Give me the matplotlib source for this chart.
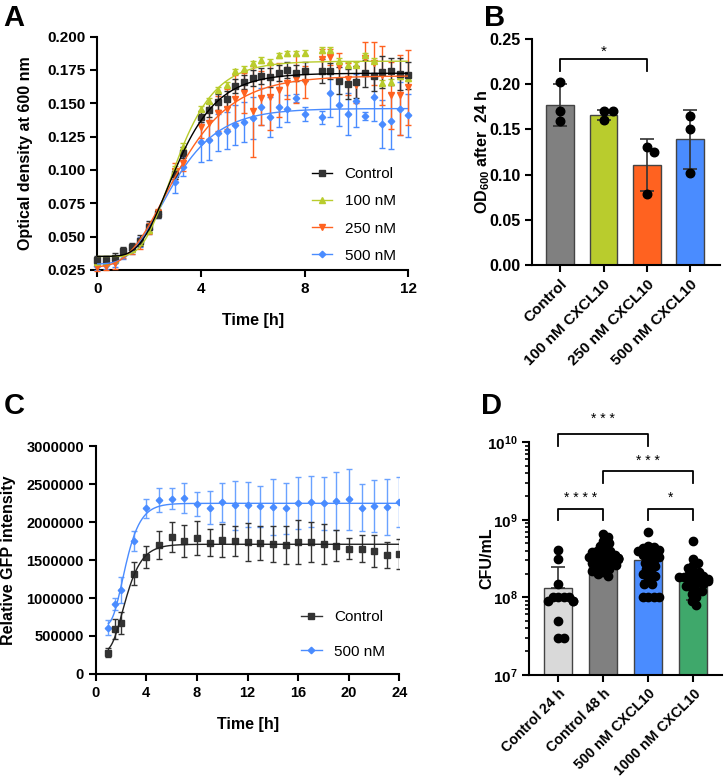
import numpy as np
import matplotlib
matplotlib.use("Agg")
import matplotlib.pyplot as plt
from matplotlib.lines import Line2D

plt.rcParams['font.family'] = ['Liberation Sans', 'DejaVu Sans']
plt.rcParams['mathtext.fontset'] = 'custom'
plt.rcParams['mathtext.rm'] = 'Liberation Sans'
plt.rcParams['mathtext.bf'] = 'Liberation Sans:bold'

# ---------------- data ----------------
# Panel A: OD600 growth curves (hours)
a_time = [0, 0.33, 0.67, 1, 1.33, 1.67, 2, 2.33, 3, 3.33, 4, 4.33, 4.67, 5, 5.33, 5.67,
          6, 6.33, 6.67, 7, 7.33, 7.67, 8, 8.67, 9, 9.33, 9.67, 10, 10.33, 10.67, 11,
          11.33, 11.67, 12]
a_ctrl = [0.0325, 0.0325, 0.034, 0.039, 0.042, 0.047, 0.0575, 0.067, 0.097, 0.113, 0.140,
          0.145, 0.151, 0.153, 0.163, 0.166, 0.169, 0.1705, 0.1695, 0.1725, 0.175, 0.173,
          0.174, 0.1745, 0.1745, 0.167, 0.1645, 0.166, 0.1725, 0.1705, 0.1735, 0.174,
          0.172, 0.171]
a_ctrl_err = [0.003, 0.003, 0.004, 0.003, 0.003, 0.004, 0.004, 0.003, 0.004, 0.004, 0.004,
              0.005, 0.006, 0.006, 0.005, 0.005, 0.006, 0.006, 0.007, 0.006, 0.006, 0.006,
              0.007, 0.009, 0.006, 0.010, 0.011, 0.012, 0.010, 0.011, 0.012, 0.010, 0.012,
              0.010]
a_100 = [0.031, 0.031, 0.033, 0.038, 0.041, 0.046, 0.055, 0.068, 0.100, 0.117, 0.146, 0.152,
         0.160, 0.164, 0.174, 0.176, 0.180, 0.1825, 0.181, 0.186, 0.1875, 0.1875, 0.188,
         0.190, 0.190, 0.182, 0.179, 0.179, 0.186, 0.182, 0.1655, 0.166, 0.1705, 0.169]
a_100_err = [0.002, 0.002, 0.002, 0.002, 0.002, 0.002, 0.002, 0.002, 0.003, 0.003, 0.002,
             0.002, 0.002, 0.002, 0.002, 0.002, 0.002, 0.002, 0.002, 0.002, 0.002, 0.002,
             0.002, 0.002, 0.002, 0.002, 0.002, 0.002, 0.002, 0.002, 0.002, 0.002, 0.002,
             0.002]
a_250 = [0.027, 0.028, 0.030, 0.037, 0.040, 0.045, 0.056, 0.068, 0.099, 0.105, 0.132, 0.1355,
         0.1425, 0.1455, 0.153, 0.1575, 0.144, 0.154, 0.155, 0.160, 0.165, 0.168, 0.166,
         0.183, 0.185, 0.178, 0.168, 0.164, 0.184, 0.180, 0.171, 0.156, 0.156, 0.162]
a_250_err = [0.003, 0.003, 0.004, 0.003, 0.003, 0.004, 0.004, 0.003, 0.006, 0.006, 0.008,
             0.012, 0.013, 0.015, 0.018, 0.015, 0.034, 0.020, 0.025, 0.020, 0.012, 0.018,
             0.012, 0.008, 0.006, 0.010, 0.012, 0.014, 0.012, 0.016, 0.022, 0.025, 0.030,
             0.028]
a_500 = [0.028, 0.029, 0.031, 0.036, 0.040, 0.046, 0.056, 0.067, 0.091, 0.1025, 0.121,
         0.1225, 0.128, 0.1295, 0.134, 0.136, 0.139, 0.1475, 0.140, 0.1475, 0.146, 0.154,
         0.142, 0.1395, 0.158, 0.149, 0.142, 0.152, 0.1405, 0.155, 0.1345, 0.137, 0.146,
         0.141]
a_500_err = [0.003, 0.003, 0.004, 0.003, 0.003, 0.004, 0.004, 0.003, 0.008, 0.007, 0.015,
             0.015, 0.014, 0.014, 0.015, 0.015, 0.016, 0.014, 0.015, 0.015, 0.010, 0.003,
             0.005, 0.005, 0.018, 0.016, 0.016, 0.020, 0.003, 0.018, 0.018, 0.021, 0.020,
             0.016]

# Panel B: OD600 after 24 h
b_groups = ['Control', '100 nM CXCL10', '250 nM CXCL10', '500 nM CXCL10']
b_means = [0.177, 0.166, 0.111, 0.139]
b_sd = [0.023, 0.005, 0.029, 0.033]
b_points = [[0.203, 0.170, 0.159], [0.170, 0.170, 0.160], [0.131, 0.125, 0.079],
            [0.165, 0.151, 0.102]]

# Panel C: GFP intensity
c_time = [1, 1.5, 2, 3, 4, 5, 6, 7, 8, 9, 10, 11, 12, 13, 14, 15, 16, 17, 18, 19, 20, 21,
          22, 23, 24]
c_ctrl = [280000, 590000, 670000, 1320000, 1540000, 1700000, 1800000, 1750000, 1790000,
          1730000, 1760000, 1750000, 1740000, 1725000, 1710000, 1700000, 1740000, 1740000,
          1710000, 1690000, 1650000, 1650000, 1620000, 1570000, 1580000]
c_ctrl_err = [60000, 130000, 140000, 150000, 150000, 180000, 200000, 210000, 230000, 180000,
              220000, 200000, 250000, 220000, 240000, 250000, 290000, 260000, 260000, 200000,
              140000, 180000, 210000, 170000, 200000]
c_500 = [610000, 920000, 1110000, 1750000, 2180000, 2290000, 2310000, 2320000, 2240000,
         2190000, 2260000, 2220000, 2230000, 2210000, 2200000, 2180000, 2250000, 2270000,
         2250000, 2280000, 2300000, 2190000, 2210000, 2200000, 2270000]
c_500_err = [100000, 80000, 170000, 130000, 120000, 160000, 140000, 200000, 160000, 220000,
             260000, 320000, 300000, 270000, 370000, 340000, 340000, 340000, 350000, 380000,
             400000, 310000, 340000, 370000, 330000]

# Panel D: CFU/mL
d_groups = ['Control 24 h', 'Control 48 h', '500 nM CXCL10', '1000 nM CXCL10']
d_means = [1.3e8, 3.05e8, 3.05e8, 1.75e8]
d_err_lo = [0.0, 0.9e8, 1.45e8, 0.82e8]
d_err_hi = [1.15e8, 1.1e8, 1.4e8, 0.8e8]
d_points = [
    [4.1e8, 3.1e8, 1.5e8, 1.0e8, 1.0e8, 1.0e8, 1.0e8, 9e7, 9e7, 9e7, 5e7, 3e7, 3e7],
    [6.5e8, 6.0e8, 5.3e8, 5.0e8, 4.6e8, 4.3e8, 4.0e8, 3.9e8, 3.8e8, 3.6e8, 3.5e8, 3.4e8,
     3.3e8, 3.3e8, 3.2e8, 3.2e8, 3.1e8, 3.1e8, 3.0e8, 3.0e8, 2.9e8, 2.8e8, 2.7e8, 2.6e8,
     2.5e8, 2.4e8, 2.3e8, 2.2e8, 2.1e8, 2.0e8, 1.9e8],
    [7.0e8, 4.6e8, 4.4e8, 4.3e8, 4.1e8, 4.0e8, 3.8e8, 3.6e8, 3.5e8, 3.3e8, 3.2e8, 3.0e8,
     2.8e8, 2.6e8, 2.5e8, 2.3e8, 2.1e8, 2.0e8, 1.9e8, 1.7e8, 1.5e8, 1.5e8, 1.0e8, 1.0e8,
     1.0e8, 1.0e8],
    [5.3e8, 3.1e8, 2.8e8, 2.6e8, 2.4e8, 2.2e8, 2.1e8, 2.0e8, 1.9e8, 1.8e8, 1.8e8, 1.8e8,
     1.7e8, 1.7e8, 1.6e8, 1.6e8, 1.5e8, 1.5e8, 1.4e8, 1.3e8, 1.2e8, 1.2e8, 1.1e8, 1.0e8,
     9e7, 8e7],
]
# significance: (left group, right group, bracket height, tick bottom, star y, label)
d_sig = [(0, 2, 1.27e10, 9e9, 2.0e10, '* * *'),
         (1, 3, 4.2e9, 3.0e9, 5.8e9, '* * *'),
         (0, 1, 1.39e9, 1.0e9, 1.9e9, '* * * *'),
         (2, 3, 1.39e9, 1.0e9, 1.9e9, '*')]

C_CTRL = '#333333'
C_100 = '#b9cc2d'
C_250 = '#ff6220'
C_500 = '#4a8cff'
C_1000 = '#3fa86b'
C_GRAY = '#808080'
C_LIGHT = '#d9d9d9'


def gompertz_fit(t, y):
    # least squares Gompertz fit (grid over midpoint/rate, linear in base/span)
    t = np.asarray(t, float)
    y = np.asarray(y, float)
    x0 = np.linspace(0.0, 6.0, 121)[:, None, None]
    k = np.linspace(0.15, 3.0, 115)[None, :, None]
    g = np.exp(-np.exp(-k * (t[None, None, :] - x0)))
    gm = g.mean(axis=2, keepdims=True)
    ym = y.mean()
    a = ((g - gm) * (y - ym)).sum(axis=2, keepdims=True) / ((g - gm) ** 2).sum(axis=2, keepdims=True)
    b = ym - a * gm
    res = ((b + a * g - y) ** 2).sum(axis=2)
    i, j = np.unravel_index(np.argmin(res), res.shape)
    bx, bk, ba, bb = x0[i, 0, 0], k[0, j, 0], a[i, j, 0], b[i, j, 0]
    return lambda tt: bb + ba * np.exp(-np.exp(-bk * (tt - bx)))


def style_axes(ax, labelsize):
    for s in ['top', 'right']:
        ax.spines[s].set_visible(False)
    for s in ['left', 'bottom']:
        ax.spines[s].set_linewidth(1.5)
    ax.tick_params(direction='out', length=5, width=1.5, labelsize=labelsize)
    for lab in ax.get_xticklabels() + ax.get_yticklabels():
        lab.set_fontweight('bold')


def swarm_x(ax, center, values, diam):
    # simple deterministic beeswarm in display pixels
    placed = []
    xs = []
    inv = ax.transData.inverted()
    for v in values:
        px, py = ax.transData.transform((center, v))
        for step in range(0, 60):
            off = (step + 1) // 2 * 0.5 * (1 if step % 2 else -1)
            cx = px + off
            if all((cx - qx) ** 2 + (py - qy) ** 2 >= diam ** 2 for qx, qy in placed):
                break
        placed.append((cx, py))
        xs.append(inv.transform((cx, py))[0])
    return xs


fig = plt.figure(figsize=(7.25, 7.8), dpi=100)

# ---------------- Panel A ----------------
axA = fig.add_axes([0.134, 0.654, 0.429, 0.299])
series_a = [
    ('Control', a_ctrl, a_ctrl_err, 's', C_CTRL, 'black', 4.8),
    ('100 nM', a_100, a_100_err, '^', C_100, C_100, 5.0),
    ('250 nM', a_250, a_250_err, 'v', C_250, C_250, 5.0),
    ('500 nM', a_500, a_500_err, 'D', C_500, C_500, 3.3),
]
tt = np.linspace(0, 12, 300)
handles = []
for lab, y, e, m, col, lcol, ms in series_a[::-1]:
    axA.errorbar(a_time, y, yerr=e, fmt=m, color=col, ecolor=col, elinewidth=1,
                 capsize=2.5, capthick=1, markersize=ms, clip_on=False, zorder=3)
    f = gompertz_fit(a_time, y)
    axA.plot(tt, f(tt), color=lcol, lw=1, zorder=4)
for lab, y, e, m, col, lcol, ms in series_a:
    handles.append(Line2D([], [], color=lcol, marker=m, markerfacecolor=col,
                          markeredgecolor=col, markersize=ms, lw=1, label=lab))
axA.set_xlim(0, 12)
axA.set_ylim(0.025, 0.200)
axA.set_xticks([0, 4, 8, 12])
axA.set_yticks(np.arange(0.025, 0.2001, 0.025))
axA.yaxis.set_major_formatter(matplotlib.ticker.FormatStrFormatter('%.3f'))
axA.set_xlabel('Time [h]', fontsize=11.5, fontweight='bold')
axA.set_ylabel('Optical density at 600 nm', fontsize=11.5, fontweight='bold')
axA.xaxis.set_label_coords(0.5, -0.185)
axA.yaxis.set_label_coords(-0.205, 0.5)
style_axes(axA, 11)
axA.legend(handles=handles, loc='upper left', bbox_to_anchor=(0.69, 0.44), frameon=False,
           fontsize=11, handlelength=1.35, handletextpad=0.8, labelspacing=0.86,
           borderpad=0, borderaxespad=0)

# ---------------- Panel B ----------------
axB = fig.add_axes([0.734, 0.660, 0.259, 0.290])
bx = np.arange(len(b_groups))
b_cols = [C_GRAY, C_100, C_250, C_500]
axB.bar(bx, b_means, width=0.64, color=b_cols, edgecolor='#444444', linewidth=1, zorder=2)
axB.errorbar(bx, b_means, yerr=b_sd, fmt='none', ecolor='#333333', elinewidth=1.2,
             capsize=5, capthick=1.2, zorder=3)
axB.set_xlim(-0.65, 3.69)
axB.set_ylim(0, 0.25)
axB.set_yticks(np.arange(0, 0.2501, 0.05))
axB.yaxis.set_major_formatter(matplotlib.ticker.FormatStrFormatter('%.2f'))
axB.set_xticks(bx)
axB.set_xticklabels(b_groups, rotation=45, ha='right', rotation_mode='anchor')
axB.set_ylabel(r'OD$_{\mathbf{600}}$ after  24 h', fontsize=11.5, fontweight='bold')
axB.yaxis.set_label_coords(-0.215, 0.5)
style_axes(axB, 11.5)
for lab in axB.get_xticklabels():
    lab.set_fontsize(11)
for i, pts in enumerate(b_points):
    xs = swarm_x(axB, bx[i], pts, 9)
    axB.scatter(xs, pts, s=38, color='black', zorder=4, clip_on=False)
axB.plot([0, 0, 2, 2], [0.215, 0.228, 0.228, 0.215], color='black', lw=1.3, clip_on=False)
axB.text(1, 0.236, '*', ha='center', va='center', fontsize=11)

# ---------------- Panel C ----------------
axC = fig.add_axes([0.132, 0.136, 0.419, 0.292])
tc = np.linspace(1, 24, 300)
axC.errorbar(c_time, c_500, yerr=c_500_err, fmt='D', color=C_500, ecolor='#6aa2ff',
             elinewidth=1, capsize=2.5, capthick=1, markersize=3.3, zorder=3)
axC.plot(tc, gompertz_fit(c_time, c_500)(tc), color=C_500, lw=1, zorder=4)
axC.errorbar(c_time, c_ctrl, yerr=c_ctrl_err, fmt='s', color=C_CTRL, ecolor='#333333',
             elinewidth=1, capsize=2.5, capthick=1, markersize=5, zorder=3)
axC.plot(tc, gompertz_fit(c_time, c_ctrl)(tc), color='#222222', lw=1, zorder=4)
axC.set_xlim(0, 24)
axC.set_ylim(0, 3000000)
axC.set_xticks(np.arange(0, 25, 4))
axC.set_yticks(np.arange(0, 3000001, 500000))
axC.yaxis.set_major_formatter(matplotlib.ticker.FormatStrFormatter('%d'))
axC.set_xlabel('Time [h]', fontsize=11.5, fontweight='bold')
axC.set_ylabel('Relative GFP intensity', fontsize=11.5, fontweight='bold')
axC.xaxis.set_label_coords(0.5, -0.187)
axC.yaxis.set_label_coords(-0.262, 0.5)
style_axes(axC, 10.5)
c_handles = [Line2D([], [], color=C_CTRL, marker='s', markersize=5, lw=1, label='Control'),
             Line2D([], [], color=C_500, marker='D', markersize=3.3, lw=1, label='500 nM')]
axC.legend(handles=c_handles, loc='upper left', bbox_to_anchor=(0.675, 0.28), frameon=False,
           fontsize=11, handlelength=1.4, handletextpad=0.8, labelspacing=1.35,
           borderpad=0, borderaxespad=0)

# ---------------- Panel D ----------------
axD = fig.add_axes([0.730, 0.135, 0.266, 0.298])
axD.set_yscale('log')
dx = np.arange(len(d_groups))
d_cols = [C_LIGHT, C_GRAY, C_500, C_1000]
axD.bar(dx, d_means, width=0.63, color=d_cols, edgecolor='#444444', linewidth=1, zorder=2)
axD.errorbar(dx, d_means, yerr=[d_err_lo, d_err_hi], fmt='none', ecolor='#333333',
             elinewidth=1.2, capsize=5, capthick=1.2, zorder=3)
axD.set_xlim(-0.64, 3.64)
axD.set_ylim(1e7, 1e10)
axD.set_yticks([1e7, 1e8, 1e9, 1e10])
axD.set_yticklabels([r'$\mathbf{10^{7}}$', r'$\mathbf{10^{8}}$', r'$\mathbf{10^{9}}$',
                     r'$\mathbf{10^{10}}$'])
axD.set_xticks(dx)
axD.set_xticklabels(d_groups, rotation=45, ha='right', rotation_mode='anchor')
axD.set_ylabel('CFU/mL', fontsize=11.5, fontweight='bold')
axD.yaxis.set_label_coords(-0.18, 0.5)
style_axes(axD, 11)
for lab in axD.get_xticklabels():
    lab.set_fontsize(10.3)
axD.tick_params(axis='y', which='minor', length=3, width=1.2)
for i, pts in enumerate(d_points):
    xs = swarm_x(axD, dx[i], pts, 5.5)
    axD.scatter(xs, pts, s=36, color='black', zorder=4, clip_on=False)
for g1, g2, hy, ty, sy, lab in d_sig:
    axD.plot([g1, g1, g2, g2], [ty, hy, hy, ty], color='black', lw=1.3, clip_on=False)
    axD.text((g1 + g2) / 2, sy, lab, ha='center', va='center', fontsize=10)

# panel letters
for lab, x, y in [('A', 0.005, 0.995), ('B', 0.668, 0.995), ('C', 0.005, 0.497),
                  ('D', 0.664, 0.497)]:
    fig.text(x, y, lab, fontsize=21, fontweight='bold', ha='left', va='top')

fig.savefig('out.png', dpi=100)
